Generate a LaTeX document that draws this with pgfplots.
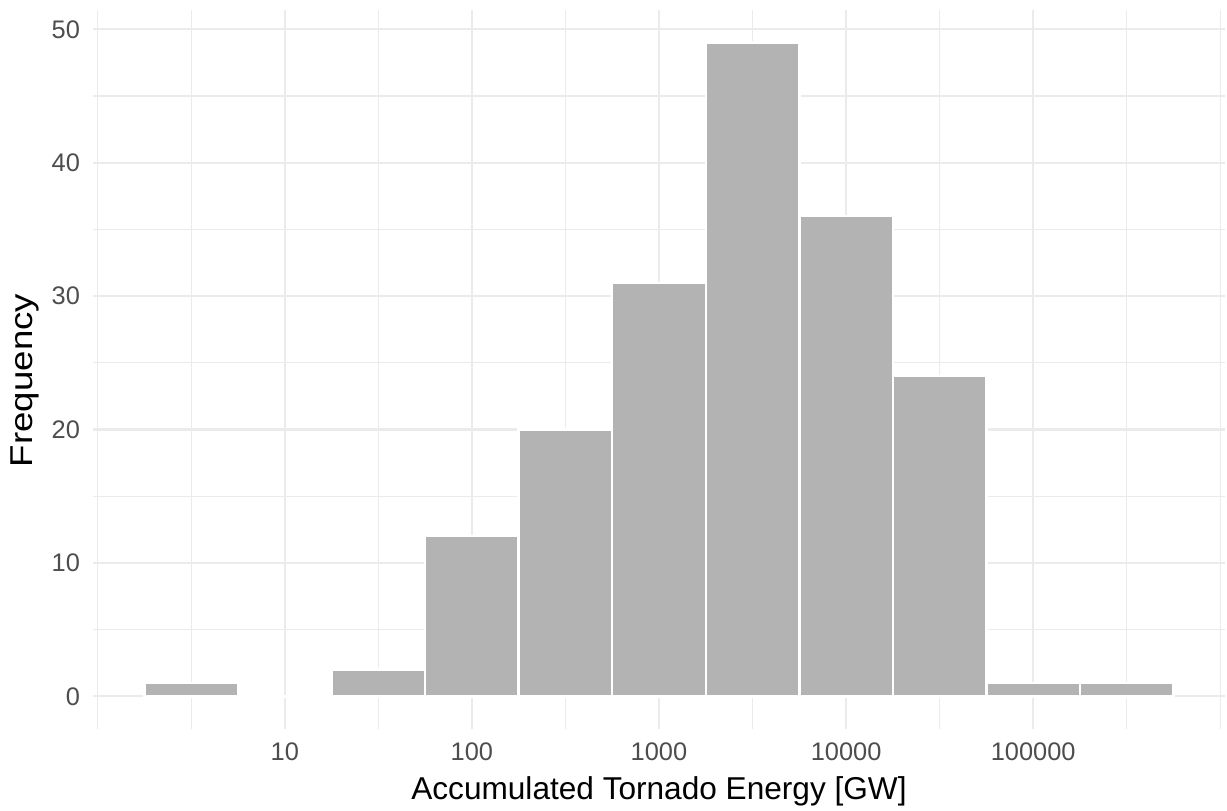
\documentclass[border=0pt]{standalone}
\usepackage{fontspec}
\setmainfont{Liberation Sans}
\usepackage{pgfplots}
\pgfplotsset{compat=1.18}
\definecolor{gridc}{HTML}{EBEBEB}
\definecolor{barc}{HTML}{B3B3B3}
\definecolor{tickc}{HTML}{4D4D4D}

\begin{document}
\begin{tikzpicture}
\path[use as bounding box] (-46.5pt,-40.5pt) rectangle (567pt,364.5pt);
\begin{axis}[
    at={(0,0)}, anchor=south west,
    scale only axis,
    width=566pt, height=359.5pt,
    xmin=-0.025, xmax=6.025,
    ymin=-2.45, ymax=51.45,
    axis line style={draw=none},
    major tick length=0pt, minor tick length=0pt,
    xtick={1,2,3,4,5},
    xticklabels={10,100,1000,10000,100000},
    minor xtick={0,0.5,1.5,2.5,3.5,4.5,5.5,6},
    ytick={0,10,20,30,40,50},
    minor ytick={5,15,25,35,45},
    grid=both,
    major grid style={draw=gridc, line width=1.1pt},
    minor grid style={draw=gridc, line width=0.55pt},
    tick label style={font=\fontsize{12.7}{14}\selectfont, text=tickc},
    yticklabel style={anchor=east, xshift=-3pt},
    xticklabel style={anchor=north, yshift=-3.5pt},
    /pgf/number format/assume math mode=true,
    xlabel={Accumulated Tornado Energy [GW]},
    ylabel={\scalebox{1.16}[1]{Frequency}},
    label style={font=\fontsize{15.8}{18}\selectfont},
    xlabel style={at={(axis description cs:0.5,0)}, anchor=center, yshift=-31pt},
    ylabel style={at={(axis description cs:0,0.5)}, anchor=center, yshift=34pt, xshift=-5.5pt},
]
\addplot[ybar interval, fill=barc, draw=white, line width=1.2pt] coordinates {
    (0.25,1) (0.75,0) (1.25,2) (1.75,12) (2.25,20) (2.75,31)
    (3.25,49) (3.75,36) (4.25,24) (4.75,1) (5.25,1) (5.75,0)
};
\end{axis}
\end{tikzpicture}
\end{document}
